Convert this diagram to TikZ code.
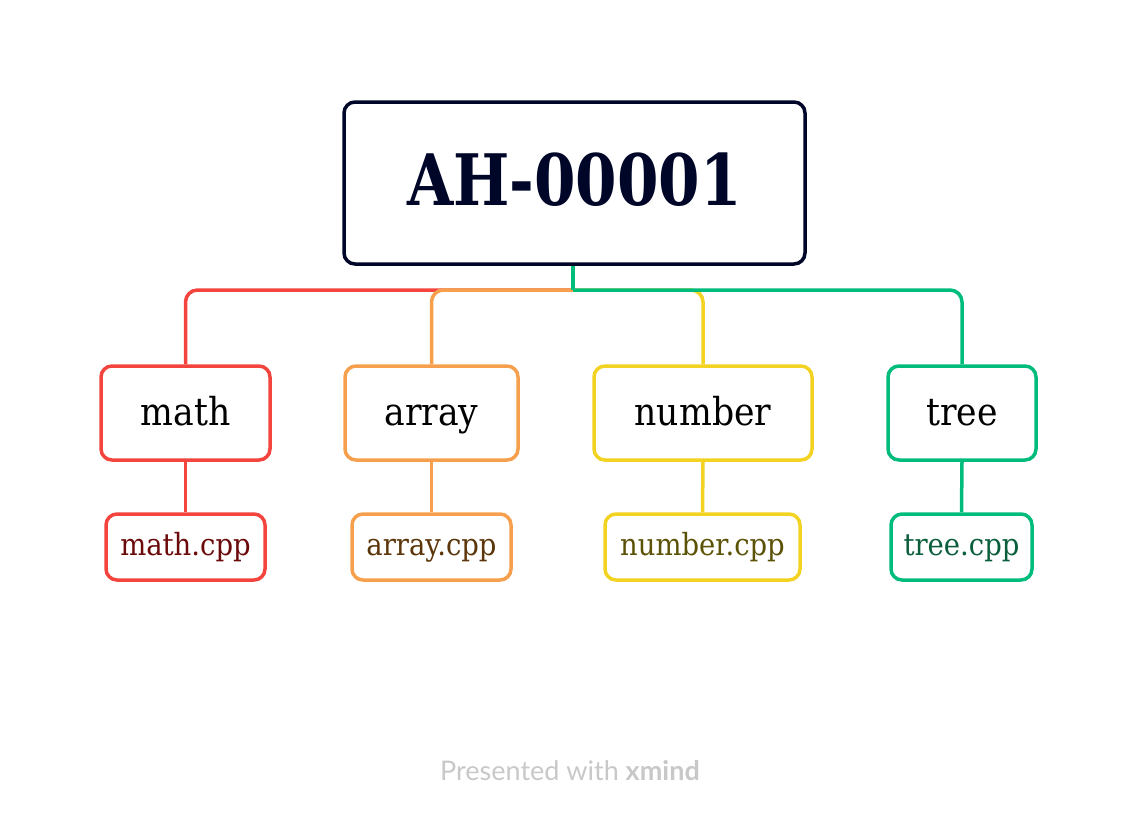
\documentclass[tikz,border=0pt]{standalone}
\usepackage{fontspec}
\setmainfont{DejaVu Serif}[FakeStretch=0.9,BoldFeatures={FakeStretch=0.84}]
\newfontfamily\footfont{Lato}
\definecolor{cred}{HTML}{F4443E}
\definecolor{corange}{HTML}{F6A04D}
\definecolor{cyellow}{HTML}{F3D321}
\definecolor{cgreen}{HTML}{00BC7B}
\definecolor{croot}{HTML}{000628}
\definecolor{tred}{HTML}{6B0A0A}
\definecolor{torange}{HTML}{5C360A}
\definecolor{tyellow}{HTML}{5C5206}
\definecolor{tgreen}{HTML}{0B5E3C}
\definecolor{cfoot}{HTML}{C8C8C8}
\tikzset{
  box/.style={draw, line width=3.5pt, rounded corners=11pt, fill=white, inner sep=0pt, align=center},
  rootbox/.style={box, draw=croot, text=croot, minimum width=461pt, minimum height=162pt, text height=52pt, text depth=8pt, font=\fontsize{71}{80}\selectfont\bfseries},
  childbox/.style={box, minimum height=94pt, text height=34pt, text depth=10pt, font=\fontsize{38.5}{42}\selectfont},
  leafbox/.style={box, minimum height=66pt, text height=25pt, text depth=9pt, font=\fontsize{30.5}{34}\selectfont},
  link/.style={line width=3.5pt, rounded corners=12pt},
}
\begin{document}
\begin{tikzpicture}[x=1pt,y=-1pt]
\useasboundingbox (0,0) rectangle (1136,820);
% root
\node[rootbox] (root) at (574.5,183) {AH-00001};
\coordinate (hub) at (573,290);
% children
\node[childbox, draw=cred, minimum width=169pt] (math) at (185.5,413) {math};
\node[childbox, draw=corange, minimum width=173pt] (array) at (431.5,413) {array};
\node[childbox, draw=cyellow, minimum width=218pt] (number) at (703,413) {number};
\node[childbox, draw=cgreen, minimum width=148pt] (tree) at (962,413) {tree};
% leaves
\node[leafbox, draw=cred, text=tred, minimum width=159pt] (mathcpp) at (185.5,547) {math.cpp};
\node[leafbox, draw=corange, text=torange, minimum width=159pt] (arraycpp) at (431.5,547) {array.cpp};
\node[leafbox, draw=cyellow, text=tyellow, minimum width=195pt] (numbercpp) at (702.5,547) {number.cpp};
\node[leafbox, draw=cgreen, text=tgreen, minimum width=141pt] (treecpp) at (961.5,547) {tree.cpp};
% connectors
\draw[link, cred] (hub) -| (math.north);
\draw[link, corange] (hub) -| (array.north);
\draw[link, cyellow] (hub) -| (number.north);
\draw[link, cgreen] (hub) -| (tree.north);
\draw[line width=3.5pt, cgreen] (root.south -| hub) -- (hub);
\draw[line width=3.5pt, cred] (math.south) -- (mathcpp.north);
\draw[line width=3.5pt, corange] (array.south) -- (arraycpp.north);
\draw[line width=3.5pt, cyellow] (number.south) -- (numbercpp.north);
\draw[line width=3.5pt, cgreen] (tree.south) -- (treecpp.north);
% footer
\node[text=cfoot, font=\footfont\fontsize{27}{30}\selectfont, inner sep=0pt] (foot) at (570,771) {Presented with \textbf{xmind}};
\end{tikzpicture}
\end{document}
